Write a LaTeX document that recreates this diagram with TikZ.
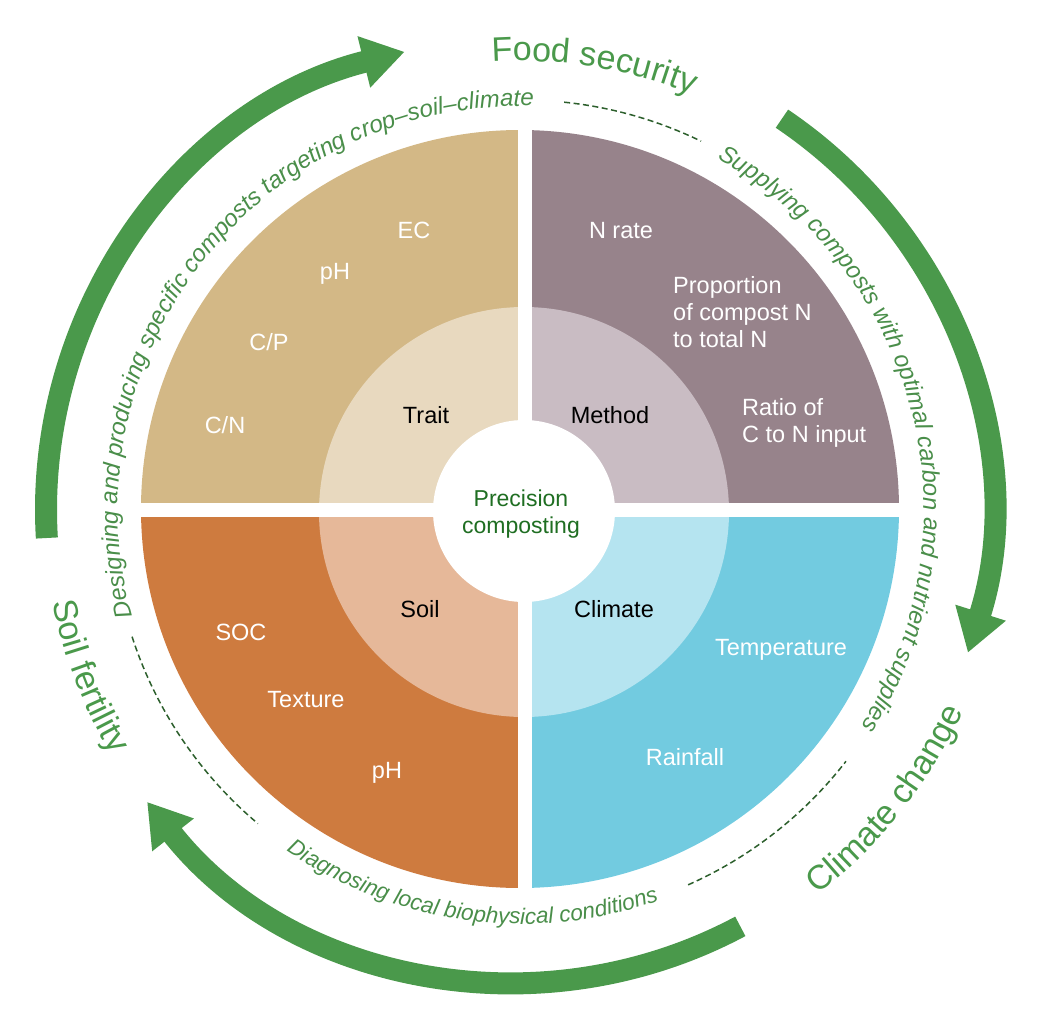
\documentclass[tikz,border=0pt]{standalone}
\usepackage{fontspec}
\setmainfont{Liberation Sans}
\usepackage{tikz}
\usetikzlibrary{arrows.meta}
\usetikzlibrary{decorations.text}

\definecolor{traitout}{HTML}{D3B886}
\definecolor{traitin}{HTML}{E8D9BF}
\definecolor{methodout}{HTML}{97838B}
\definecolor{methodin}{HTML}{C9BCC3}
\definecolor{soilout}{HTML}{CE7B3F}
\definecolor{soilin}{HTML}{E6B899}
\definecolor{climateout}{HTML}{72CBE0}
\definecolor{climatein}{HTML}{B5E4F0}
\definecolor{leaf}{HTML}{4A994B}
\definecolor{leaftext}{HTML}{4A8E4A}
\definecolor{deepleaf}{HTML}{2C5F2C}
\definecolor{centregreen}{HTML}{1F6E22}

\begin{document}
\begin{tikzpicture}[x=1pt,y=1pt,
    every node/.style={inner sep=0pt},
    item/.style={text=white,font=\fontsize{23.5}{27}\selectfont,anchor=base},
    group/.style={text=black,font=\fontsize{23.5}{27}\selectfont,anchor=base},
    flow/.style={draw=leaf,line width=22pt,-{Triangle[width=50pt,length=42pt]}},
    guide/.style={draw=deepleaf,line width=1.5pt,dash pattern=on 6pt off 3.5pt}]

    \useasboundingbox (-522,-500) rectangle (526,510);

    \fill[traitout]   (-2,1) -- ++(90:379)  arc[start angle=90,end angle=180,radius=379] -- cycle;
    \fill[methodout]  (-2,1) -- ++(0:379)   arc[start angle=0,end angle=90,radius=379] -- cycle;
    \fill[soilout]    (-2,1) -- ++(180:379) arc[start angle=180,end angle=270,radius=379] -- cycle;
    \fill[climateout] (-2,1) -- ++(270:379) arc[start angle=270,end angle=360,radius=379] -- cycle;

    \fill[traitin]   (2,-2) -- ++(90:205)  arc[start angle=90,end angle=180,radius=205] -- cycle;
    \fill[methodin]  (2,-2) -- ++(0:205)   arc[start angle=0,end angle=90,radius=205] -- cycle;
    \fill[soilin]    (2,-2) -- ++(180:205) arc[start angle=180,end angle=270,radius=205] -- cycle;
    \fill[climatein] (2,-2) -- ++(270:205) arc[start angle=270,end angle=360,radius=205] -- cycle;

    \fill[white] (-4.5,-385) rectangle (9.5,385);
    \fill[white] (-385,-7) rectangle (385,7.5);
    \fill[white] (2,-1) circle[radius=91];

    \node[item]  (ec)      at (-108,272) {EC};
    \node[item]  (phtrait) at (-187,231) {pH};
    \node[item]  (cp)      at (-253,160) {C/P};
    \node[item]  (cn)      at (-297,77)  {C/N};
    \node[group] (trait)   at (-96,87)   {Trait};

    \node[group] (method)     at (88,87)   {Method};
    \node[item]  (nrate)      at (99,272)  {N rate};
    \node[item,anchor=base west,align=left] (proportion) at (151,163) {Proportion\\of compost N\\to total N};
    \node[item,anchor=base west,align=left] (ratio)      at (220,68)  {Ratio of\\C to N input};

    \node[group] (soil)    at (-102,-107) {Soil};
    \node[item]  (soc)     at (-281,-130) {SOC};
    \node[item]  (texture) at (-216,-197) {Texture};
    \node[item]  (phsoil)  at (-135,-268) {pH};

    \node[group] (climate)     at (92,-107)  {Climate};
    \node[item]  (temperature) at (259,-145) {Temperature};
    \node[item]  (rainfall)    at (163,-255) {Rainfall};

    \node[text=centregreen,font=\fontsize{23}{27}\selectfont,align=center,anchor=base] (centre) at (-1,-23) {Precision\\composting};

    \draw[flow] (-4,0) ++(183.4:472) arc[start angle=183.4,end angle=103.9,radius=472];
    \draw[flow] (-4,0) ++(56:472)    arc[start angle=56,end angle=-17.6,radius=472];
    \draw[flow] (-4,0) ++(-61.9:472) arc[start angle=-61.9,end angle=-141.8,radius=472];

    \draw[guide] (84.1:410)  arc[start angle=84.1,end angle=64.1,radius=410];
    \draw[guide] (198:410)   arc[start angle=198,end angle=229.9,radius=410];
    \draw[guide] (-66.1:410) arc[start angle=-66.1,end angle=-37.8,radius=410];

    \path[decorate,decoration={text along path,text align=center,text color=leaftext,
        text={|\fontsize{24}{28}\selectfont\itshape|Designing and producing specific composts targeting crop–soil–climate}}]
        (200:404) arc[start angle=200,end angle=83.6,radius=404];
    \path[decorate,decoration={text along path,text align=center,text color=leaftext,
        text={|\fontsize{24}{28}\selectfont\itshape|Supplying composts with optimal carbon and nutrient supplies}}]
        (70:402) arc[start angle=70,end angle=-41.6,radius=402];
    \path[decorate,decoration={text along path,text align=center,text color=leaftext,
        text={|\fontsize{22.5}{27}\selectfont\itshape|Diagnosing local biophysical conditions}}]
        (-150:414) arc[start angle=-150,end angle=-45.4,radius=414];

    \path[decorate,decoration={text along path,text align=center,text color=leaf,
        text={|\fontsize{34}{40}\selectfont|Food security}}]
        (120:449) arc[start angle=120,end angle=41.6,radius=449];
    \path[decorate,decoration={text along path,text align=center,text color=leaf,
        text={|\fontsize{34}{40}\selectfont|Soil fertility}}]
        (170:478) arc[start angle=170,end angle=232,radius=478];
    \path[decorate,decoration={text along path,text align=center,text color=leaf,
        text={|\fontsize{34}{40}\selectfont|Climate change}}]
        (-70:485) arc[start angle=-70,end angle=-7,radius=485];
\end{tikzpicture}
\end{document}
